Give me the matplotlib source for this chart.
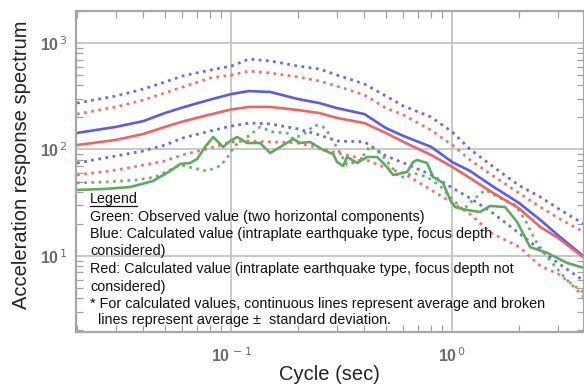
import matplotlib
matplotlib.use("Agg")
import matplotlib.pyplot as plt
from matplotlib.ticker import LogLocator, FuncFormatter, NullFormatter
import numpy as np

plt.rcParams['font.family'] = ['Liberation Sans', 'DejaVu Sans']

# ---------------- data (period in sec, acceleration response) ----------------
period = [0.02, 0.03, 0.04, 0.05, 0.06, 0.08, 0.1, 0.12, 0.15, 0.2, 0.25, 0.3,
          0.4, 0.5, 0.6, 0.8, 1.0, 1.2, 1.5, 2.0, 2.5, 3.0, 4.0]
blue_avg = [143, 163, 185, 220, 248, 294, 332, 354, 347, 298, 273, 245,
            215, 159, 134, 106, 76, 63, 46, 31.5, 21.8, 15.7, 9.6]
red_avg = [110, 123, 140, 163, 183, 213, 238, 251, 251, 235, 220, 198,
           177, 143, 118, 89, 68.5, 54, 40, 28, 18.7, 14.8, 9.4]
blue_plus = [273, 318, 370, 430, 490, 557, 608, 708, 678, 608, 570, 501,
             412, 318, 256, 202, 146, 101, 71, 46, 35.8, 28, 19.5]
red_plus = [215, 251, 292, 340, 386, 469, 501, 546, 523, 480, 440, 394,
            325, 245, 211, 152, 110, 80, 58, 39, 28.8, 22.8, 16.4]
blue_minus = [74.6, 87, 97, 110, 128, 149, 166, 177, 174, 156, 137, 120,
              118, 87, 75, 58, 43.5, 35, 25.9, 16.4, 11.4, 8.6, 5.7]
red_minus = [57.6, 64, 71.5, 78, 89, 103, 118, 120, 118, 115, 103, 93,
             81, 67, 60, 41.7, 31.5, 24.8, 16.4, 12.2, 8.05, 6.8, 4.4]

obs1_period = [0.0200, 0.0268, 0.0348, 0.0442, 0.0528, 0.0586, 0.0650, 0.0700,
               0.0760, 0.0826, 0.0917, 0.0987, 0.1061, 0.1178, 0.1348, 0.1497,
               0.1661, 0.1843, 0.1902, 0.2046, 0.2270, 0.2601, 0.2885, 0.3008,
               0.3202, 0.3339, 0.3705, 0.4111, 0.4563, 0.5063, 0.5391, 0.6237,
               0.6640, 0.6924, 0.7683, 0.8178, 0.9077, 0.9763, 1.0285, 1.1653,
               1.3346, 1.4809, 1.7315, 1.9626, 2.2471, 2.6826, 3.3037, 3.9446]
obs1_value = [41.7, 42.6, 44.4, 50.6, 62.8, 73.1, 74.7, 81.4, 105.6, 131.1,
              105.6, 120.2, 131.1, 115.1, 115.1, 92.7, 105.6, 120.2, 125.5,
              115.1, 117.6, 98.9, 90.7, 76.3, 70.0, 85.0, 74.7, 85.0, 85.0,
              68.5, 57.6, 61.5, 76.3, 79.7, 74.7, 55.2, 48.5, 33.6, 28.8, 27.0,
              25.9, 29.5, 28.8, 20.9, 12.1, 10.7, 8.6, 7.7]

obs2_period = [0.0200, 0.0268, 0.0374, 0.0452, 0.0528, 0.0586, 0.0671, 0.0776,
               0.0889, 0.0956, 0.1018, 0.1095, 0.1178, 0.1348, 0.1544, 0.1786,
               0.1902, 0.2156, 0.2391, 0.2601, 0.2710, 0.3008, 0.3339, 0.3823,
               0.4242, 0.4709, 0.5225, 0.5799, 0.6640, 0.7683, 0.8796, 1.0073,
               1.1179, 1.2406, 1.4061, 1.6441, 1.9219, 2.1330, 2.3670, 2.6826,
               3.2359, 3.9446]
obs2_value = [48.5, 49.5, 51.7, 55.2, 64.2, 71.5, 67.0, 62.8, 70.0, 83.2, 103.3,
              120.2, 131.1, 162.7, 146.0, 142.9, 125.5, 142.9, 169.8, 162.7,
              149.2, 103.3, 71.5, 79.7, 107.9, 92.7, 71.5, 54.0, 60.2, 55.2,
              45.4, 33.6, 27.0, 33.6, 41.7, 35.0, 30.1, 21.8, 14.1, 9.8, 6.2, 4.1]

legend_lines = [
    "Green: Observed value (two horizontal components)",
    "Blue: Calculated value (intraplate earthquake type, focus depth",
    "considered)",
    "Red: Calculated value (intraplate earthquake type, focus depth not",
    "considered)",
    "* For calculated values, continuous lines represent average and broken",
    "  lines represent average \u00b1  standard deviation.",
]

# ---------------- figure ----------------
W, H = 584, 385
fig = plt.figure(figsize=(W / 100, H / 100), dpi=100)
ax = fig.add_axes([76 / W, 1 - 332 / H, 1 - 76 / W, (332 - 11) / H])

BLUE = '#5a5af2'
RED = '#f26262'
GREEN = '#5eaa5e'
dot = (0, (1, 1.6))

ax.plot(period, blue_plus, color=BLUE, lw=2.0, ls=dot, alpha=0.9)
ax.plot(period, red_plus, color=RED, lw=2.0, ls=dot, alpha=0.9)
ax.plot(period, blue_minus, color=BLUE, lw=2.0, ls=dot, alpha=0.9)
ax.plot(period, red_minus, color=RED, lw=2.0, ls=dot, alpha=0.9)
ax.plot(obs2_period, obs2_value, color=GREEN, lw=2.0, ls=dot, alpha=0.9)
ax.plot(period, blue_avg, color=BLUE, lw=1.9)
ax.plot(period, red_avg, color=RED, lw=1.9)
ax.plot(obs1_period, obs1_value, color=GREEN, lw=1.9)

ax.set_xscale('log')
ax.set_yscale('log')
ax.set_xlim(0.0198, 3.94)
ax.set_ylim(1.93, 2000)

ax.xaxis.set_major_locator(LogLocator(base=10, numticks=10))
ax.yaxis.set_major_locator(LogLocator(base=10, numticks=10))
ax.xaxis.set_minor_locator(LogLocator(base=10, subs=np.arange(2, 10), numticks=20))
ax.yaxis.set_minor_locator(LogLocator(base=10, subs=np.arange(2, 10), numticks=20))
ax.xaxis.set_minor_formatter(NullFormatter())
ax.yaxis.set_minor_formatter(NullFormatter())
fmt = FuncFormatter(lambda v, p: r'$\mathregular{10}^{\,%d}$' % int(round(np.log10(v))))
ax.xaxis.set_major_formatter(fmt)
ax.yaxis.set_major_formatter(fmt)

ax.grid(True, which='major', color='#c4c4c4', lw=1.3)
ax.set_axisbelow(True)
for s in ax.spines.values():
    s.set_color('#a6a6a6')
    s.set_linewidth(1.6)

ax.tick_params(which='both', direction='in', top=True, right=True, color='#a0a0a0')
ax.tick_params(which='major', length=0, width=1)
ax.tick_params(which='minor', length=5, width=0.9)
ax.tick_params(axis='x', which='major', pad=10, labelsize=11.5, labelcolor='#6c6c6c')
ax.tick_params(axis='y', which='major', pad=6, labelsize=11.5, labelcolor='#6c6c6c')
for lab in ax.get_xticklabels() + ax.get_yticklabels():
    lab.set_fontweight('bold')

fig.text(22 / W, 1 - 165 / H, 'Acceleration response spectrum', rotation=90,
         ha='center', va='center', fontsize=14.5, color='#222222')
fig.text(329 / W, 1 - 374 / H, 'Cycle (sec)', ha='center', va='center',
         fontsize=14.5, color='#222222')

# legend block
fig.text(90 / W, 1 - 199 / H, 'Legend', ha='left', va='center', fontsize=10.4,
         color='#111111')
fig.add_artist(plt.Line2D([90 / W, 137 / W], [1 - 206 / H, 1 - 206 / H],
                          color='#111111', lw=0.9))
ys = [217, 234, 251, 269, 286.5, 304, 320]
for txt, yy in zip(legend_lines, ys):
    fig.text(90 / W, 1 - yy / H, txt, ha='left', va='center', fontsize=10.4,
             color='#111111')

fig.savefig('out.png', dpi=100)
